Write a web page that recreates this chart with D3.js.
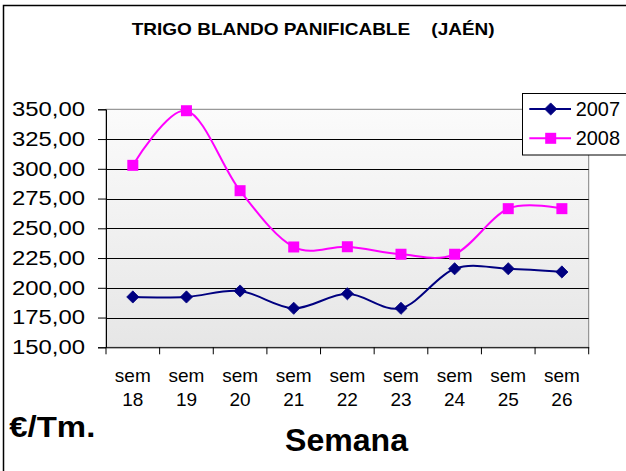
<!DOCTYPE html>
<html>
<head>
<meta charset="utf-8">
<script src="https://cdn.jsdelivr.net/npm/d3@7"></script>
<style>
  html, body { margin: 0; padding: 0; background: #fff; }
  svg { display: block; }
  svg text { font-family: Arial, "Liberation Sans", Helvetica, sans-serif; }
</style>
</head>
<body>
<div id="chart"></div>
<script>
const categories = ["sem 18", "sem 19", "sem 20", "sem 21", "sem 22", "sem 23", "sem 24", "sem 25", "sem 26"];
const values2007 = [192.3, 192.3, 197.3, 182.8, 195.0, 182.8, 216.0, 216.0, 213.3];
const values2008 = [302.9, 348.8, 281.6, 234.3, 234.5, 228.2, 228.2, 266.5, 266.5];
const yTicks = [150, 175, 200, 225, 250, 275, 300, 325, 350];
const seriesNames = ["2007", "2008"];
const title = "TRIGO BLANDO PANIFICABLE\u00a0\u00a0\u00a0\u00a0(JAÉN)";
const yUnit = "€/Tm.";
const xTitle = "Semana";

const W = 626, H = 471;
const plot = { left: 106, right: 588.7, top: 109.3, bottom: 347.3 };

const svg = d3.select("#chart").append("svg").attr("width", W).attr("height", H);

// outer border
svg.append("rect").attr("x", 3.5).attr("y", 5.5).attr("width", 700).attr("height", 600)
  .attr("fill", "#fff").attr("stroke", "#000").attr("stroke-width", 1.5);

const x = d3.scaleBand().domain(categories).range([plot.left, plot.right]).paddingInner(0).paddingOuter(0);
const y = d3.scaleLinear().domain([150, 350]).range([plot.bottom, plot.top]);

// gradient background
const defs = svg.append("defs");
const grad = defs.append("linearGradient").attr("id", "bg").attr("x1", 0).attr("y1", 0).attr("x2", 0).attr("y2", 1);
grad.append("stop").attr("offset", "0%").attr("stop-color", "#fbfbfb");
grad.append("stop").attr("offset", "100%").attr("stop-color", "#e6e6e6");

svg.append("rect").attr("x", plot.left).attr("y", plot.top)
  .attr("width", plot.right - plot.left).attr("height", plot.bottom - plot.top)
  .attr("fill", "url(#bg)").attr("stroke", "#808080").attr("stroke-width", 1);

// gridlines
svg.append("g").selectAll("line").data(yTicks.filter(d => d > 150 && d < 350)).join("line")
  .attr("x1", plot.left).attr("x2", plot.right)
  .attr("y1", d => Math.round(y(d)) + 0.5).attr("y2", d => Math.round(y(d)) + 0.5)
  .attr("stroke", "#000").attr("stroke-width", 1);

// y axis
const fmt = d => d3.format(".2f")(d).replace(".", ",");
const yAxis = svg.append("g").attr("transform", `translate(${plot.left},0)`)
  .call(d3.axisLeft(y).tickValues(yTicks).tickFormat(fmt).tickSize(8).tickPadding(13));
yAxis.attr("font-family", null).attr("font-size", null);
yAxis.select(".domain").attr("stroke", "#000");
yAxis.selectAll(".tick line").attr("stroke", "#000");
yAxis.selectAll(".tick text").attr("font-size", 20).attr("fill", "#000")
  .attr("textLength", 73).attr("lengthAdjust", "spacingAndGlyphs");

// x axis
const xAxis = svg.append("g").attr("transform", `translate(0,${plot.bottom})`)
  .call(d3.axisBottom(x).tickSize(0).tickFormat(""));
xAxis.select(".domain").attr("stroke", "#000");
const bounds = d3.range(categories.length + 1).map(i => plot.left + i * x.bandwidth());
svg.append("g").selectAll("line").data(bounds).join("line")
  .attr("x1", d => d).attr("x2", d => d)
  .attr("y1", plot.bottom).attr("y2", plot.bottom + 7)
  .attr("stroke", "#000");

const xl = svg.append("g").selectAll("text").data(categories).join("text")
  .attr("x", d => x(d) + x.bandwidth() / 2)
  .attr("text-anchor", "middle").attr("font-size", 19).attr("fill", "#000");
xl.append("tspan").attr("x", d => x(d) + x.bandwidth() / 2).attr("y", 381.7).text(d => d.split(" ")[0]);
xl.append("tspan").attr("x", d => x(d) + x.bandwidth() / 2).attr("y", 405.7).text(d => d.split(" ")[1]);

// lines
const line = d3.line().curve(d3.curveCatmullRom.alpha(0))
  .x((d, i) => x(categories[i]) + x.bandwidth() / 2).y(d => y(d));

const colors = ["#000080", "#ff00ff"];
const data = [values2007, values2008];

data.forEach((vals, si) => {
  svg.append("path").datum(vals).attr("d", line)
    .attr("fill", "none").attr("stroke", colors[si]).attr("stroke-width", 2);
});

// markers
const diamond = d3.symbol().type(d3.symbolDiamond2).size(95);
svg.append("g").selectAll("path").data(values2007).join("path")
  .attr("d", diamond)
  .attr("transform", (d, i) => `translate(${x(categories[i]) + x.bandwidth() / 2},${y(d)})`)
  .attr("fill", colors[0]).attr("stroke", colors[0]).attr("stroke-width", 0.8);
svg.append("g").selectAll("rect").data(values2008).join("rect")
  .attr("x", (d, i) => x(categories[i]) + x.bandwidth() / 2 - 5.5)
  .attr("y", d => y(d) - 5.5).attr("width", 11).attr("height", 11)
  .attr("fill", colors[1]);

// legend
const lg = svg.append("g");
lg.append("rect").attr("x", 522.5).attr("y", 93.5).attr("width", 130).attr("height", 61.5)
  .attr("fill", "#fff").attr("stroke", "#000").attr("stroke-width", 1);
const legY = [109, 138.3];
seriesNames.forEach((name, i) => {
  lg.append("line").attr("x1", 529.3).attr("x2", 571).attr("y1", legY[i]).attr("y2", legY[i])
    .attr("stroke", colors[i]).attr("stroke-width", 2);
  if (i === 0) {
    lg.append("path").attr("d", diamond).attr("transform", `translate(550.7,${legY[i]})`)
      .attr("fill", colors[0]).attr("stroke", colors[0]).attr("stroke-width", 0.8);
  } else {
    lg.append("rect").attr("x", 550.7 - 5.5).attr("y", legY[i] - 5.5).attr("width", 11).attr("height", 11)
      .attr("fill", colors[1]);
  }
  lg.append("text").attr("x", 575.7).attr("y", legY[i] + 6.7).attr("font-size", 19.5)
    .attr("fill", "#000").attr("textLength", 44.3).attr("lengthAdjust", "spacingAndGlyphs").text(name);
});

// title
svg.append("text").attr("x", 131.7).attr("y", 35).attr("font-size", 17).attr("font-weight", "bold")
  .attr("textLength", 363).attr("lengthAdjust", "spacingAndGlyphs").attr("fill", "#000").text(title);

// unit
svg.append("text").attr("x", 9.3).attr("y", 436.7).attr("font-size", 30).attr("font-weight", "bold")
  .attr("textLength", 86).attr("lengthAdjust", "spacingAndGlyphs").attr("fill", "#000").text(yUnit);

// x title
svg.append("text").attr("x", 285).attr("y", 450.7).attr("font-size", 31).attr("font-weight", "bold")
  .attr("textLength", 123).attr("lengthAdjust", "spacingAndGlyphs").attr("fill", "#000").text(xTitle);
</script>
</body>
</html>
